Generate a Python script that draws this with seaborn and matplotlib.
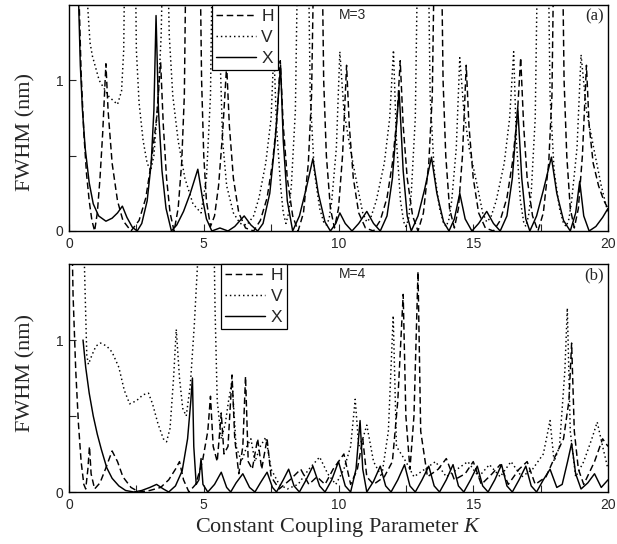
import numpy as np
import pandas as pd
import matplotlib
matplotlib.use("Agg")
import matplotlib.pyplot as plt
import seaborn as sns
from matplotlib.ticker import FixedLocator

# (K, FWHM) points; values above 1.5 run off the top
H_a = [(0.30, 2.0), (0.38, 1.5), (0.45, 1.05), (0.55, 0.65), (0.65, 0.38), (0.75, 0.2), (0.85, 0.07), (0.95, 0.0),
       (1.05, 0.12), (1.15, 0.35), (1.25, 0.65), (1.37, 1.11), (1.45, 0.8), (1.6, 0.45), (1.8, 0.2), (2.0, 0.07),
       (2.3, 0.0), (2.6, 0.07), (2.85, 0.22), (3.05, 0.45), (3.25, 0.75), (3.4, 1.12), (3.5, 0.7), (3.62, 0.35),
       (3.75, 0.12), (3.9, 0.0), (4.05, 0.15), (4.18, 0.45), (4.28, 0.9), (4.35, 2.0),
       (4.85, 2.0), (4.92, 1.0), (5.0, 0.5), (5.1, 0.2), (5.25, 0.03), (5.4, 0.1), (5.55, 0.3), (5.7, 0.65),
       (5.85, 1.1), (5.95, 0.7), (6.1, 0.35), (6.3, 0.12), (6.55, 0.02), (6.85, 0.0), (7.1, 0.07), (7.35, 0.22),
       (7.55, 0.45), (7.72, 0.75), (7.84, 1.13), (7.95, 0.7), (8.1, 0.35), (8.3, 0.1), (8.5, 0.0), (8.7, 0.12),
       (8.88, 0.45), (9.0, 0.9), (9.1, 2.0),
       (9.38, 2.0), (9.45, 1.0), (9.55, 0.5), (9.7, 0.15), (9.85, 0.02), (10.0, 0.15), (10.15, 0.5), (10.3, 1.1),
       (10.4, 0.7), (10.55, 0.35), (10.75, 0.12), (11.0, 0.02), (11.3, 0.0), (11.55, 0.07), (11.8, 0.22),
       (12.0, 0.45), (12.17, 0.75), (12.29, 1.13), (12.4, 0.7), (12.55, 0.35), (12.75, 0.1), (12.95, 0.0),
       (13.15, 0.12), (13.35, 0.45), (13.48, 0.9), (13.57, 2.0),
       (13.81, 2.0), (13.88, 1.0), (13.98, 0.5), (14.12, 0.15), (14.3, 0.02), (14.45, 0.15), (14.6, 0.5),
       (14.74, 1.1), (14.84, 0.7), (15.0, 0.35), (15.2, 0.12), (15.45, 0.02), (15.75, 0.0), (16.0, 0.07),
       (16.25, 0.22), (16.45, 0.45), (16.63, 0.75), (16.76, 1.15), (16.87, 0.7), (17.0, 0.35), (17.2, 0.1),
       (17.4, 0.0), (17.6, 0.12), (17.8, 0.45), (17.92, 0.9), (18.0, 2.0),
       (18.3, 2.0), (18.37, 1.0), (18.47, 0.5), (18.6, 0.15), (18.75, 0.02), (18.9, 0.15), (19.05, 0.5),
       (19.2, 1.1), (19.3, 0.7), (19.45, 0.45), (19.65, 0.3), (19.85, 0.2), (20.0, 0.15)]

V_a = [(0.62, 2.0), (0.69, 1.5), (0.78, 1.25), (0.87, 1.16), (1.12, 1.0), (1.49, 0.89), (1.8, 0.84), (1.95, 0.93),
       (2.03, 1.2), (2.08, 2.0),
       (2.45, 2.0), (2.5, 1.2), (2.6, 0.85), (2.75, 0.6), (2.9, 0.45), (3.03, 0.40), (3.15, 0.5), (3.3, 0.85),
       (3.42, 1.3), (3.5, 2.0),
       (3.64, 2.0), (3.72, 1.3), (3.85, 0.9), (4.05, 0.6), (4.3, 0.35), (4.6, 0.18), (4.9, 0.12), (5.1, 0.35),
       (5.25, 0.9), (5.33, 2.0),
       (5.5, 2.0), (5.6, 1.2), (5.7, 0.6), (5.85, 0.3), (6.1, 0.12), (6.35, 0.05), (6.6, 0.04), (6.85, 0.1),
       (7.05, 0.22), (7.3, 0.45), (7.5, 0.75), (7.6, 1.2), (7.7, 0.7), (7.85, 0.3), (7.95, 0.12), (8.05, 0.05),
       (8.15, 0.12), (8.25, 0.3), (8.4, 0.8), (8.5, 2.0),
       (8.87, 2.0), (8.95, 0.9), (9.1, 0.4), (9.3, 0.15), (9.45, 0.06), (9.55, 0.04), (9.65, 0.08), (9.75, 0.2),
       (9.92, 0.55), (10.05, 1.19), (10.2, 0.8), (10.43, 0.55), (10.7, 0.3), (10.9, 0.12), (11.05, 0.06),
       (11.2, 0.09), (11.4, 0.2), (11.7, 0.45), (11.9, 0.75), (12.04, 1.2), (12.15, 0.6), (12.3, 0.2),
       (12.42, 0.06), (12.5, 0.03), (12.6, 0.08), (12.7, 0.25), (12.85, 0.75), (12.95, 2.0),
       (13.32, 2.0), (13.4, 0.9), (13.55, 0.4), (13.75, 0.15), (13.9, 0.05), (14.0, 0.03), (14.1, 0.08),
       (14.2, 0.2), (14.37, 0.55), (14.5, 1.15), (14.65, 0.8), (14.85, 0.55), (15.15, 0.3), (15.35, 0.12),
       (15.5, 0.06), (15.65, 0.09), (15.85, 0.2), (16.15, 0.45), (16.35, 0.75), (16.5, 1.19), (16.6, 0.6),
       (16.75, 0.2), (16.87, 0.06), (16.95, 0.03), (17.05, 0.1), (17.15, 0.25), (17.3, 0.75), (17.4, 2.0),
       (17.77, 2.0), (17.85, 0.9), (18.0, 0.4), (18.2, 0.15), (18.35, 0.05), (18.45, 0.03), (18.55, 0.08),
       (18.65, 0.2), (18.85, 0.55), (19.0, 1.17), (19.2, 0.8), (19.47, 0.55), (19.75, 0.3), (20.0, 0.12)]

X_a = [(0.30, 2.0), (0.36, 1.5), (0.42, 1.1), (0.5, 0.8), (0.6, 0.55), (0.75, 0.32), (0.9, 0.18), (1.1, 0.1),
       (1.37, 0.065), (1.6, 0.085), (1.8, 0.12), (1.98, 0.165), (2.15, 0.09), (2.35, 0.025), (2.53, 0.0),
       (2.7, 0.05), (2.9, 0.2), (3.05, 0.45), (3.15, 0.8), (3.23, 1.43), (3.32, 0.8), (3.45, 0.4), (3.6, 0.15),
       (3.8, 0.0), (4.0, 0.04), (4.25, 0.13), (4.5, 0.25), (4.78, 0.41), (4.95, 0.22), (5.1, 0.08), (5.3, 0.0),
       (5.6, 0.02), (5.9, 0.0), (6.15, 0.03), (6.5, 0.1), (6.75, 0.04), (7.0, 0.0), (7.2, 0.05), (7.45, 0.25),
       (7.65, 0.6), (7.85, 1.1), (7.95, 0.6), (8.1, 0.2), (8.3, 0.0), (8.55, 0.1), (8.8, 0.28), (9.05, 0.48),
       (9.25, 0.25), (9.5, 0.06), (9.7, 0.0), (9.9, 0.05), (10.05, 0.12), (10.25, 0.05), (10.5, 0.0),
       (10.75, 0.05), (11.05, 0.13), (11.3, 0.05), (11.55, 0.0), (11.8, 0.1), (12.0, 0.35), (12.25, 0.93),
       (12.4, 0.4), (12.55, 0.1), (12.7, 0.0), (12.95, 0.1), (13.2, 0.28), (13.45, 0.49), (13.65, 0.25),
       (13.9, 0.06), (14.1, 0.0), (14.3, 0.08), (14.5, 0.25), (14.7, 0.08), (14.95, 0.0), (15.2, 0.05),
       (15.5, 0.13), (15.75, 0.05), (16.0, 0.0), (16.25, 0.1), (16.45, 0.35), (16.65, 0.82), (16.8, 0.35),
       (16.95, 0.08), (17.1, 0.0), (17.35, 0.1), (17.6, 0.27), (17.9, 0.49), (18.1, 0.25), (18.35, 0.07),
       (18.6, 0.0), (18.8, 0.12), (18.95, 0.33), (19.1, 0.1), (19.3, 0.0), (19.55, 0.03), (19.8, 0.09),
       (20.0, 0.15)]

H_b = [(0.08, 2.0), (0.15, 1.3), (0.25, 0.8), (0.35, 0.45), (0.45, 0.2), (0.55, 0.05), (0.62, 0.02), (0.7, 0.15),
       (0.76, 0.3), (0.82, 0.12), (0.95, 0.02), (1.15, 0.06), (1.35, 0.15), (1.6, 0.27), (1.8, 0.2), (2.0, 0.1),
       (2.3, 0.03), (2.6, 0.0), (3.0, 0.01), (3.4, 0.03), (3.7, 0.08), (3.95, 0.15), (4.1, 0.2), (4.25, 0.08),
       (4.45, 0.0), (4.7, 0.05), (4.95, 0.2), (5.15, 0.4), (5.25, 0.63), (5.35, 0.3), (5.5, 0.2), (5.65, 0.52),
       (5.75, 0.25), (5.9, 0.3), (6.05, 0.77), (6.15, 0.35), (6.3, 0.12), (6.45, 0.3), (6.55, 0.76), (6.65, 0.2),
       (6.8, 0.15), (7.0, 0.35), (7.15, 0.15), (7.35, 0.35), (7.5, 0.1), (7.8, 0.02), (8.2, 0.08), (8.6, 0.15),
       (8.9, 0.05), (9.2, 0.1), (9.5, 0.05), (9.8, 0.15), (10.2, 0.25), (10.45, 0.05), (10.7, 0.15), (10.9, 0.35),
       (11.05, 0.1), (11.3, 0.05), (11.7, 0.1), (12.0, 0.2), (12.2, 0.6), (12.4, 1.3), (12.5, 0.5), (12.65, 0.15),
       (12.8, 0.5), (12.95, 1.45), (13.05, 0.4), (13.3, 0.1), (13.7, 0.15), (14.0, 0.22), (14.3, 0.08),
       (14.7, 0.12), (15.0, 0.2), (15.3, 0.05), (15.7, 0.12), (16.0, 0.18), (16.3, 0.05), (16.7, 0.15),
       (17.0, 0.2), (17.3, 0.05), (17.7, 0.1), (18.0, 0.22), (18.35, 0.35), (18.55, 0.6), (18.65, 0.98),
       (18.75, 0.4), (18.9, 0.15), (19.1, 0.05), (19.5, 0.2), (19.8, 0.35), (20.0, 0.3)]

V_b = [(0.5, 2.0), (0.6, 1.3), (0.66, 0.9), (0.72, 0.84), (0.85, 0.9), (1.0, 0.96), (1.17, 0.98), (1.4, 0.96),
       (1.6, 0.92), (1.85, 0.82), (2.05, 0.67), (2.25, 0.58), (2.5, 0.6), (2.75, 0.64), (2.95, 0.65), (3.1, 0.58),
       (3.3, 0.45), (3.5, 0.35), (3.62, 0.33), (3.75, 0.42), (3.88, 0.75), (3.98, 1.07), (4.1, 0.75),
       (4.22, 0.55), (4.35, 0.5), (4.5, 0.7), (4.65, 1.1), (4.8, 1.6), (4.9, 2.0),
       (5.35, 2.0), (5.42, 1.2), (5.5, 0.6), (5.65, 0.35), (5.8, 0.45), (5.92, 0.6), (6.05, 0.73), (6.2, 0.3),
       (6.4, 0.2), (6.6, 0.3), (6.75, 0.35), (6.9, 0.2), (7.1, 0.3), (7.3, 0.36), (7.5, 0.15), (7.8, 0.05),
       (8.1, 0.02), (8.5, 0.05), (8.9, 0.15), (9.3, 0.23), (9.6, 0.12), (9.9, 0.05), (10.2, 0.15), (10.45, 0.3),
       (10.62, 0.61), (10.75, 0.3), (10.9, 0.35), (11.05, 0.44), (11.3, 0.2), (11.6, 0.1), (11.85, 0.4),
       (12.03, 1.16), (12.15, 0.3), (12.5, 0.2), (12.8, 0.1), (13.2, 0.15), (13.6, 0.2), (14.0, 0.1),
       (14.4, 0.15), (14.8, 0.2), (15.2, 0.1), (15.6, 0.18), (16.0, 0.1), (16.4, 0.2), (16.8, 0.1), (17.2, 0.15),
       (17.6, 0.25), (17.85, 0.47), (18.0, 0.2), (18.2, 0.3), (18.4, 0.8), (18.49, 1.21), (18.6, 0.4),
       (18.8, 0.1), (19.1, 0.2), (19.4, 0.35), (19.6, 0.46), (19.8, 0.3), (20.0, 0.15)]

X_b = [(0.52, 1.0), (0.62, 0.82), (0.75, 0.65), (0.9, 0.5), (1.05, 0.38), (1.2, 0.28), (1.4, 0.16), (1.6, 0.09),
       (1.85, 0.04), (2.1, 0.01), (2.4, 0.0), (2.7, 0.01), (3.0, 0.03), (3.25, 0.05), (3.5, 0.02), (3.7, 0.0),
       (3.95, 0.04), (4.2, 0.14), (4.4, 0.35), (4.52, 0.6), (4.58, 0.75), (4.63, 0.3), (4.72, 0.05), (4.82, 0.08),
       (4.9, 0.22), (4.97, 0.05), (5.15, 0.0), (5.4, 0.05), (5.65, 0.13), (5.85, 0.03), (6.0, 0.0), (6.2, 0.06),
       (6.45, 0.12), (6.7, 0.03), (6.9, 0.0), (7.1, 0.06), (7.35, 0.13), (7.55, 0.03), (7.7, 0.0), (7.95, 0.08),
       (8.15, 0.15), (8.35, 0.04), (8.55, 0.0), (8.8, 0.08), (9.05, 0.17), (9.3, 0.04), (9.5, 0.0), (9.75, 0.08),
       (10.0, 0.2), (10.25, 0.04), (10.45, 0.0), (10.65, 0.15), (10.8, 0.47), (10.9, 0.15), (11.05, 0.0),
       (11.3, 0.07), (11.55, 0.17), (11.75, 0.04), (11.95, 0.0), (12.2, 0.08), (12.45, 0.18), (12.65, 0.04),
       (12.85, 0.0), (13.1, 0.08), (13.35, 0.17), (13.55, 0.04), (13.75, 0.0), (14.0, 0.08), (14.25, 0.18),
       (14.45, 0.04), (14.65, 0.0), (14.9, 0.08), (15.15, 0.17), (15.35, 0.04), (15.55, 0.0), (15.8, 0.08),
       (16.05, 0.18), (16.25, 0.04), (16.45, 0.0), (16.7, 0.08), (16.95, 0.17), (17.15, 0.04), (17.35, 0.0),
       (17.6, 0.08), (17.85, 0.15), (18.1, 0.03), (18.3, 0.05), (18.5, 0.2), (18.65, 0.32), (18.8, 0.12),
       (19.0, 0.02), (19.25, 0.06), (19.5, 0.12), (19.75, 0.03), (20.0, 0.08)]

series_names = ['H', 'V', 'X']
panel_tags = ['(a)', '(b)']
panel_m = ['M=3', 'M=4']

sns.set_theme(style="ticks")
plt.rcParams['font.family'] = ['Liberation Sans', 'DejaVu Sans']
plt.rcParams['axes.linewidth'] = 1.0
plt.rcParams['mathtext.fontset'] = 'custom'
plt.rcParams['mathtext.rm'] = 'Liberation Serif'
plt.rcParams['mathtext.it'] = 'Liberation Serif:italic'

serif = ['Liberation Serif', 'DejaVu Serif']

fig = plt.figure(figsize=(6.17, 5.44), dpi=100)
ax1 = fig.add_axes([69/617, 1-231/544, 539/617, 226/544])
ax2 = fig.add_axes([69/617, 1-492/544, 539/617, 228/544])

styles = {'H': (4.5, 2.5), 'V': (1.0, 2.0), 'X': None}


def panel(ax, data, tag, mtext, leg_x, ylab_y):
    for name, pts in zip(series_names, data):
        arr = np.array(pts)
        df = pd.DataFrame({'K': arr[:, 0], 'FWHM': arr[:, 1]})
        sns.lineplot(data=df, x='K', y='FWHM', ax=ax, color='black', linewidth=1.05,
                     sort=False, estimator=None, label=name)
        ln = ax.lines[-1]
        if styles[name] is not None:
            ln.set_dashes(styles[name])
    ax.set_xlim(0, 20)
    ax.set_ylim(0, 1.5)
    ax.xaxis.set_major_locator(FixedLocator([0, 5, 10, 15, 20]))
    ax.xaxis.set_minor_locator(FixedLocator([2.5, 7.5, 12.5, 17.5]))
    ax.yaxis.set_major_locator(FixedLocator([0, 1]))
    ax.yaxis.set_minor_locator(FixedLocator([0.5]))
    ax.tick_params(which='both', direction='in', top=False, right=False, width=0.8,
                   labelsize=10, pad=4, length=5)
    for s in ax.spines.values():
        s.set_visible(True)
        s.set_color('black')
    ax.set_xlabel('')
    ax.set_ylabel('FWHM (nm)', family=serif, fontsize=16)
    ax.yaxis.set_label_coords(-0.062, ylab_y)
    ax.text(0.5, 0.985, mtext, transform=ax.transAxes, ha='left', va='top', fontsize=10)
    ax.text(0.993, 0.985, tag, transform=ax.transAxes, ha='right', va='top', fontsize=12,
            family=serif)
    leg = ax.legend(loc='upper left', bbox_to_anchor=(leg_x, 1.0), fontsize=12.5, frameon=True,
                    fancybox=False, framealpha=1, edgecolor='black', handlelength=2.3,
                    handletextpad=0.3, labelspacing=0.32, borderpad=0.25, borderaxespad=0.0)
    leg.get_frame().set_linewidth(0.9)


panel(ax1, [H_a, V_a, X_a], panel_tags[0], panel_m[0], 0.265, 0.44)
panel(ax2, [H_b, V_b, X_b], panel_tags[1], panel_m[1], 0.282, 0.52)

ax2.set_xlabel('Constant Coupling Parameter $K$', family=serif, fontsize=16)
ax2.xaxis.set_label_coords(0.5, -0.105)

fig.savefig('out.png', dpi=100)
